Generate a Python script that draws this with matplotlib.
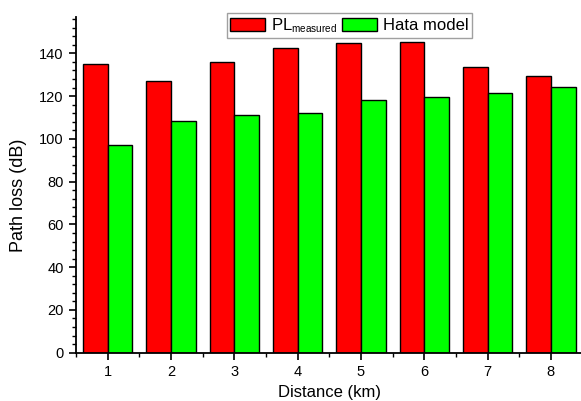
import matplotlib
matplotlib.use("Agg")
import matplotlib.pyplot as plt
import matplotlib._mathtext as _mt
import numpy as np
from matplotlib.ticker import MultipleLocator

plt.rcParams['font.family'] = ['Liberation Sans', 'DejaVu Sans']
plt.rcParams['mathtext.fontset'] = 'custom'
plt.rcParams['mathtext.rm'] = 'Liberation Sans'
plt.rcParams['mathtext.it'] = 'Liberation Sans'
_mt.SHRINK_FACTOR = 0.6

distance = [1, 2, 3, 4, 5, 6, 7, 8]
pl_measured = [134.8, 126.9, 136.0, 142.6, 144.9, 145.3, 133.6, 129.2]
hata_model = [97.1, 108.5, 111.1, 111.9, 118.3, 119.5, 121.6, 124.4]
labels = ['PL$_{\\mathrm{measured}}$', 'Hata model']

fig = plt.figure(figsize=(5.81, 4.01), dpi=100)
ax = fig.add_axes([76/581, 1-352.7/401, (582.5-76)/581, (352.7-17)/401])
axw = 582.5 - 76
axh = 352.7 - 17

x = np.array(distance)
w = 0.39
ax.bar(x - 0.195, pl_measured, width=w, color='#ff0000', edgecolor='black', linewidth=1.0, label=labels[0])
ax.bar(x + 0.195, hata_model, width=w, color='#00ff00', edgecolor='black', linewidth=1.0, label=labels[1])

ax.set_xlim(0.5, 8.5)
ax.set_ylim(0, 157)
ax.set_xticks(distance)
ax.xaxis.set_minor_locator(MultipleLocator(0.5))
ax.yaxis.set_major_locator(MultipleLocator(20))
ax.yaxis.set_minor_locator(MultipleLocator(4))

for s in ['top', 'right']:
    ax.spines[s].set_visible(False)
for s in ['left', 'bottom']:
    ax.spines[s].set_linewidth(1.3)

ax.tick_params(axis='both', which='major', direction='out', length=5, width=1.2, labelsize=10.5, pad=4)
ax.tick_params(axis='both', which='minor', direction='out', length=3, width=1.0)

ax.set_xlabel('Distance (km)', fontsize=12)
ax.xaxis.set_label_coords((330 - 76) / axw, -(385.5 - 352.7) / axh)
ax.set_ylabel('Path loss (dB)', fontsize=13)
ax.yaxis.set_label_coords(-(76 - 27) / axw, (352.7 - 195) / axh)

leg = ax.legend(loc='upper left', bbox_to_anchor=((227 - 76) / axw, 1.012), ncol=2,
                fontsize=12, frameon=True, fancybox=False, edgecolor='#888888',
                handlelength=2.1, handleheight=0.8, columnspacing=0.3, handletextpad=0.35,
                borderpad=0.2, borderaxespad=0)
leg.get_frame().set_linewidth(1.0)

fig.savefig('out.png', dpi=100)
